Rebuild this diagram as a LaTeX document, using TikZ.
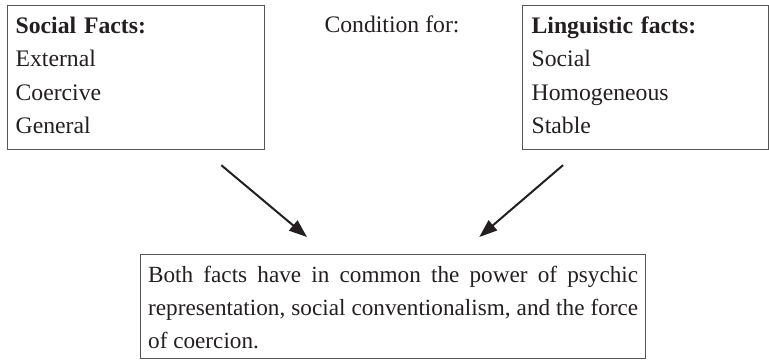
\documentclass[tikz,border=0pt]{standalone}
\usepackage{fontspec}
\setmainfont{Liberation Serif}
\usetikzlibrary{arrows.meta}
\definecolor{facttext}{RGB}{35, 31, 32}
\definecolor{factline}{RGB}{85, 85, 85}
\newcommand{\firstline}{\rule{0pt}{28pt}}
\begin{document}
\begin{tikzpicture}[x=1pt, y=1pt,
    factbox/.style={draw=factline, line width=1.3pt, inner xsep=8pt, inner ysep=0pt,
      anchor=north west, align=left, text=facttext,
      font=\fontsize{23.7}{33.3}\selectfont},
    toarrow/.style={-{Triangle[length=18pt, width=13pt]}, line width=2pt, facttext}]
        \useasboundingbox (0,0) rectangle (769,362);
        \node[factbox, text width=241pt] (social) at (7,357)
          {\firstline\textbf{Social Facts:}\\External\\Coercive\\General\rule[-16pt]{0pt}{0pt}};
        \node[factbox, text width=228pt, inner xsep=9pt] (ling) at (522,357)
          {\firstline\textbf{Linguistic facts:}\\Social\\Homogeneous\\Stable\rule[-16pt]{0pt}{0pt}};
        \node[anchor=base, text=facttext, font=\fontsize{23.7}{33.3}\selectfont] (cond) at (392,329) {Condition for:};
        \node[factbox, text width=490pt, inner xsep=7.5pt, align=justify,
          font=\fontsize{23.2}{33}\selectfont] (common) at (140,108)
          {\firstline Both facts have in common the power of psychic\linebreak
           representation, social conventionalism, and the force\linebreak
           of coercion.\rule[-10pt]{0pt}{0pt}};
        \coordinate (leftfrom) at ([xshift=-44pt, yshift=-15pt]social.south east);
        \coordinate (leftto) at ([xshift=167pt, yshift=17pt]common.north west);
        \coordinate (rightfrom) at ([xshift=41pt, yshift=-15pt]ling.south west);
        \coordinate (rightto) at ([xshift=-167pt, yshift=17pt]common.north east);
        \draw[toarrow] (leftfrom) -- (leftto);
        \draw[toarrow] (rightfrom) -- (rightto);
      \end{tikzpicture}
\end{document}
